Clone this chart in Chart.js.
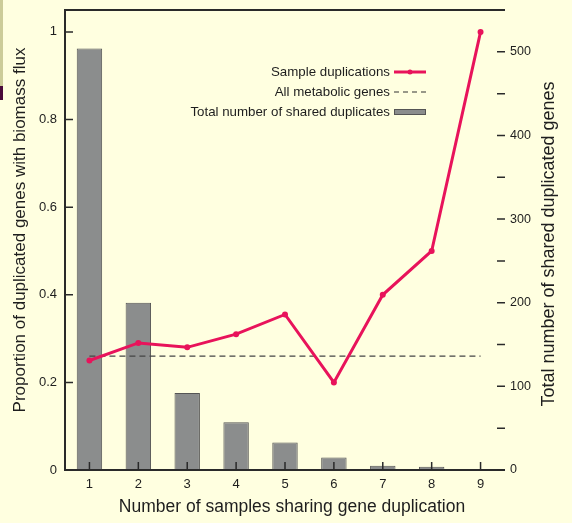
<!DOCTYPE html>
<html>
<head>
<meta charset="utf-8">
<script src="https://cdn.jsdelivr.net/npm/chart.js@4.4.1/dist/chart.umd.min.js"></script>
<style>
  body { margin: 0; background: #ffffe0; }
  #wrap { position: relative; width: 572px; height: 523px; background: #ffffe0; }
  .strip1 { position: absolute; left: 0; top: 0; width: 3px; height: 86px; background: #cccc99; }
  .strip2 { position: absolute; left: 0; top: 86px; width: 3px; height: 14px; background: #4a0a3a; }
</style>
</head>
<body>
<div id="wrap">
  <canvas id="chart"></canvas>
  <div class="strip1"></div>
  <div class="strip2"></div>
</div>
<script>
// Data
const categories = ["1", "2", "3", "4", "5", "6", "7", "8", "9"];
const sharedDuplicates = [504, 200, 92, 57, 33, 15, 5, 4, 1];
const sampleProportion = [0.25, 0.29, 0.28, 0.31, 0.355, 0.2, 0.4, 0.5, 1.0];
const allMetabolicLevel = 0.26;
const leftTicks = [0, 0.2, 0.4, 0.6, 0.8, 1];
const rightTicks = [0, 50, 100, 150, 200, 250, 300, 350, 400, 450, 500];

const legendItems = [
  { label: "Sample duplications", type: "line" },
  { label: "All metabolic genes", type: "dash" },
  { label: "Total number of shared duplicates", type: "bar" },
];

const FONT = "'Liberation Sans', Arial, sans-serif";
const INK = "#1e1e1e";
const PINK = "#e8135b";
const BAR_FILL = "#8b8d8d";
const BAR_EDGE = "#555";

// fixed scale sizes so the plot box lands where the reference has it
function fixSize(prop, size) {
  return (scale) => {
    scale[prop] = size;
    scale.paddingTop = 0;
    scale.paddingBottom = 0;
    scale.paddingLeft = 0;
    scale.paddingRight = 0;
  };
}

// Frame, inward ticks, axis titles and legend
const decorations = {
  id: "decorations",
  afterDatasetsDraw(chart) {
    const { ctx, chartArea: a, scales } = chart;
    ctx.save();
    ctx.strokeStyle = "#2a2a2a";
    ctx.lineWidth = 2;
    ctx.beginPath();
    ctx.moveTo(a.right, a.top);
    ctx.lineTo(a.left, a.top);
    ctx.lineTo(a.left, a.bottom);
    ctx.lineTo(a.right, a.bottom);
    ctx.stroke();

    ctx.lineWidth = 1.5;
    ctx.beginPath();
    scales.y.ticks.forEach((t) => {
      const y = scales.y.getPixelForValue(t.value);
      ctx.moveTo(a.left, y);
      ctx.lineTo(a.left + 8, y);
    });
    scales.y1.ticks.forEach((t) => {
      const y = scales.y1.getPixelForValue(t.value);
      ctx.moveTo(a.right - 8, y);
      ctx.lineTo(a.right, y);
    });
    categories.forEach((c, i) => {
      const x = scales.x.getPixelForValue(i);
      ctx.moveTo(x, a.bottom - 8);
      ctx.lineTo(x, a.bottom);
    });
    ctx.stroke();

    // axis titles
    ctx.fillStyle = INK;
    ctx.textAlign = "center";
    ctx.textBaseline = "middle";
    ctx.font = "17.5px " + FONT;
    ctx.fillText("Number of samples sharing gene duplication", 292, 507);

    ctx.save();
    ctx.font = "17px " + FONT;
    ctx.translate(20, 230);
    ctx.rotate(-Math.PI / 2);
    ctx.fillText("Proportion of duplicated genes with biomass flux", 0, 0);
    ctx.restore();

    ctx.save();
    ctx.font = "18px " + FONT;
    ctx.translate(549, 244);
    ctx.rotate(-Math.PI / 2);
    ctx.fillText("Total number of shared duplicated genes", 0, 0);
    ctx.restore();

    // legend
    ctx.font = "13.3px " + FONT;
    ctx.textAlign = "right";
    const textRight = 390;
    const sx0 = 394;
    const sx1 = 426;
    legendItems.forEach((item, i) => {
      const y = 72 + i * 20;
      ctx.fillStyle = INK;
      ctx.fillText(item.label, textRight, y);
      if (item.type === "line") {
        ctx.strokeStyle = PINK;
        ctx.lineWidth = 3;
        ctx.beginPath();
        ctx.moveTo(sx0, y);
        ctx.lineTo(sx1, y);
        ctx.stroke();
        ctx.fillStyle = PINK;
        ctx.beginPath();
        ctx.arc((sx0 + sx1) / 2, y, 2.5, 0, Math.PI * 2);
        ctx.fill();
      } else if (item.type === "dash") {
        ctx.strokeStyle = "#333";
        ctx.lineWidth = 1.2;
        ctx.setLineDash([5, 4]);
        ctx.beginPath();
        ctx.moveTo(sx0, y);
        ctx.lineTo(sx1, y);
        ctx.stroke();
        ctx.setLineDash([]);
      } else {
        ctx.fillStyle = BAR_FILL;
        ctx.strokeStyle = BAR_EDGE;
        ctx.lineWidth = 1;
        ctx.fillRect(sx0, y - 3, sx1 - sx0, 6);
        ctx.strokeRect(sx0 + 0.5, y - 2.5, sx1 - sx0 - 1, 5);
      }
    });
    ctx.restore();
  },
};

document.addEventListener("DOMContentLoaded", () => {
  const ctx = document.getElementById("chart");
  new Chart(ctx, {
    data: {
      labels: categories,
      datasets: [
        {
          type: "line",
          label: "Sample duplications",
          data: sampleProportion,
          yAxisID: "y",
          borderColor: PINK,
          backgroundColor: PINK,
          borderWidth: 3,
          pointRadius: 3,
          pointBorderWidth: 0,
          tension: 0,
          order: 0,
        },
        {
          type: "line",
          label: "All metabolic genes",
          data: categories.map(() => allMetabolicLevel),
          yAxisID: "y",
          borderColor: "#444",
          borderWidth: 1.2,
          borderDash: [6, 4],
          pointRadius: 0,
          order: 1,
        },
        {
          type: "bar",
          label: "Total number of shared duplicates",
          data: sharedDuplicates,
          yAxisID: "y1",
          backgroundColor: BAR_FILL,
          borderColor: BAR_EDGE,
          borderWidth: 1,
          categoryPercentage: 1,
          barPercentage: 0.52,
          order: 2,
        },
      ],
    },
    options: {
      responsive: true,
      maintainAspectRatio: false,
      animation: false,
      layout: { padding: { top: 10, left: 0, right: 0, bottom: 0 } },
      plugins: {
        legend: { display: false },
        tooltip: { enabled: false },
      },
      scales: {
        x: {
          type: "category",
          offset: true,
          grid: { display: false, drawTicks: false },
          border: { display: false },
          ticks: { color: INK, font: { family: FONT, size: 13 }, padding: 7 },
          afterFit: fixSize("height", 53),
        },
        y: {
          position: "left",
          min: 0,
          max: 1.05,
          grid: { display: false, drawTicks: false },
          border: { display: false },
          afterBuildTicks: (scale) => { scale.ticks = leftTicks.map((v) => ({ value: v })); },
          ticks: {
            color: INK,
            font: { family: FONT, size: 13 },
            padding: 8,
            callback: (v) => (v === 0 || v === 1 ? String(v) : v.toFixed(1)),
          },
          afterFit: fixSize("width", 65),
        },
        y1: {
          position: "right",
          min: 0,
          max: 550,
          grid: { display: false, drawTicks: false },
          border: { display: false },
          afterBuildTicks: (scale) => { scale.ticks = rightTicks.map((v) => ({ value: v })); },
          ticks: {
            color: INK,
            font: { family: FONT, size: 12.5 },
            padding: 5,
            autoSkip: false,
            callback: (v) => (v % 100 === 0 ? String(v) : ""),
          },
          afterFit: fixSize("width", 67),
        },
      },
    },
    plugins: [decorations],
  });
});
</script>
</body>
</html>
